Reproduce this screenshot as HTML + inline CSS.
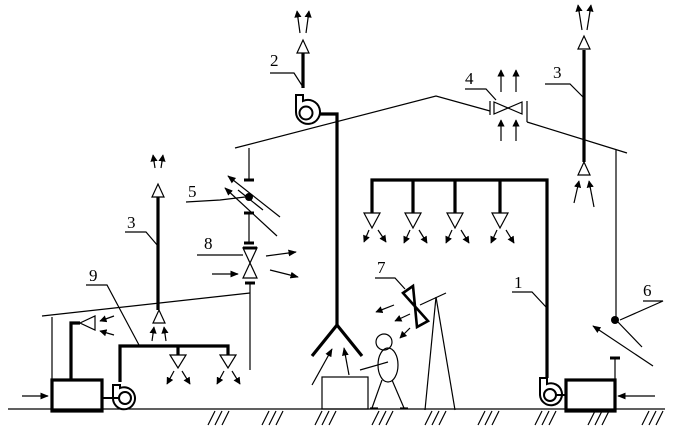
<!DOCTYPE html>
<html><head><meta charset="utf-8"><style>
html,body{margin:0;padding:0;background:#fff}
svg{display:block}
text{font-family:"Liberation Serif",serif;font-size:17px;fill:#000}
</style></head><body>
<svg width="673" height="432" viewBox="0 0 673 432" xmlns="http://www.w3.org/2000/svg">
<defs>
<marker id="a" viewBox="0 0 10 10" refX="9" refY="5" markerWidth="6" markerHeight="6" orient="auto"><path d="M0,0 L10,5 L0,10 z" fill="#000"/></marker>
<marker id="b" viewBox="0 0 10 10" refX="9" refY="5" markerWidth="7" markerHeight="7" orient="auto"><path d="M0,1 L10,5 L0,9 z" fill="#000"/></marker>
</defs>
<g fill="none" stroke="#000" stroke-width="1.2">
<line x1="8" y1="409" x2="665" y2="409"/>
<path d="M208,425 l7,-14 M215,425 l7,-14 M222,425 l7,-14 M262,425 l7,-14 M269,425 l7,-14 M276,425 l7,-14 M315,425 l7,-14 M322,425 l7,-14 M329,425 l7,-14 M372,425 l7,-14 M379,425 l7,-14 M386,425 l7,-14 M425,425 l7,-14 M432,425 l7,-14 M439,425 l7,-14 M478,425 l7,-14 M485,425 l7,-14 M492,425 l7,-14 M535,425 l7,-14 M542,425 l7,-14 M549,425 l7,-14 M588,425 l7,-14 M595,425 l7,-14 M602,425 l7,-14 M642,425 l7,-14 M649,425 l7,-14 M656,425 l7,-14"/>
<polyline points="235,148 436,96 490,111"/>
<polyline points="527,122 627,153"/>
<line x1="616" y1="150" x2="616" y2="320"/>
<line x1="490" y1="101" x2="490" y2="115"/><line x1="527" y1="101" x2="527" y2="122"/>
<path d="M494,102 L522,114 L522,102 L494,114 Z"/>
<line x1="501" y1="92" x2="501" y2="70" marker-end="url(#a)"/><line x1="516" y1="92" x2="516" y2="70" marker-end="url(#a)"/>
<line x1="501" y1="141" x2="501" y2="120" marker-end="url(#a)"/><line x1="516" y1="141" x2="516" y2="120" marker-end="url(#a)"/>
<line x1="616" y1="320" x2="642" y2="347"/>
<line x1="653" y1="366" x2="593" y2="326" marker-end="url(#b)"/>
<line x1="615" y1="358" x2="615" y2="380"/><line x1="610" y1="358" x2="620" y2="358" stroke-width="3"/>
<line x1="655" y1="396" x2="618" y2="396" marker-end="url(#b)"/>
<line x1="42" y1="316" x2="250" y2="293"/>
<line x1="52" y1="317" x2="52" y2="380"/>
<line x1="250" y1="283" x2="250" y2="370"/>
<line x1="245" y1="283" x2="255" y2="283" stroke-width="3"/>
<line x1="249" y1="148" x2="249" y2="180"/><line x1="244" y1="180" x2="254" y2="180" stroke-width="3"/>
<line x1="249" y1="212" x2="249" y2="243"/><line x1="244" y1="213" x2="254" y2="213" stroke-width="3"/><line x1="244" y1="243" x2="254" y2="243" stroke-width="3"/>
<line x1="238" y1="190" x2="263" y2="210"/>
<line x1="280" y1="217" x2="228" y2="176" marker-end="url(#b)"/>
<line x1="277" y1="236" x2="225" y2="188" marker-end="url(#b)"/>
<path d="M243,248 L257,248 L243,278 L257,278 Z"/>
<line x1="243" y1="248" x2="257" y2="248" stroke-width="3"/>
<line x1="266" y1="256" x2="296" y2="252" marker-end="url(#b)"/>
<line x1="270" y1="270" x2="298" y2="277" marker-end="url(#b)"/>
<line x1="212" y1="274" x2="238" y2="274" marker-end="url(#b)"/>
<path d="M364,213 L380,213 L372,228 Z M405,213 L421,213 L413,228 Z M447,213 L463,213 L455,228 Z M492,213 L508,213 L500,228 Z"/>
<path d="M152,197 L164,197 L158,184 Z M153,323 L165,323 L159,310 Z M170,355 L186,355 L178,368 Z M220,355 L236,355 L228,368 Z"/>
<path d="M297,53 L303,40 L309,53 Z M578,49 L584,36 L590,49 Z M578,175 L590,175 L584,162 Z"/>
<path d="M80,323 L95,316 L95,330 Z"/>
<rect x="322" y="377" width="46" height="32"/>
<circle cx="384" cy="342" r="8"/>
<ellipse cx="388" cy="365" rx="10" ry="17"/>
<line x1="360" y1="370" x2="388" y2="362"/>
<polyline points="382,380 372,408"/><line x1="370" y1="408" x2="378" y2="408"/>
<polyline points="392,380 404,408"/><line x1="400" y1="408" x2="408" y2="408"/>
<line x1="436" y1="297" x2="425" y2="410"/><line x1="436" y1="297" x2="455" y2="410"/>
<line x1="420" y1="305" x2="446" y2="293"/>
<polyline points="270,73 294,73 303,87"/>
<polyline points="545,84 570,84 584,98"/>
<polyline points="465,89 486,89 496,100"/>
<polyline points="186,202 220,200 245,197"/>
<polyline points="197,255 243,255"/>
<polyline points="125,232 146,232 158,246"/>
<polyline points="86,285 107,285 139,345"/>
<polyline points="375,278 395,278 405,289"/>
<polyline points="512,292 532,292 546,307"/>
<polyline points="643,301 663,301 620,320"/>
<line x1="155" y1="168" x2="153" y2="155" marker-end="url(#a)"/><line x1="161" y1="168" x2="163" y2="155" marker-end="url(#a)"/>
<line x1="152" y1="341" x2="154" y2="327" marker-end="url(#a)"/><line x1="166" y1="341" x2="164" y2="327" marker-end="url(#a)"/>
<line x1="174" y1="371" x2="167" y2="384" marker-end="url(#a)"/><line x1="182" y1="371" x2="190" y2="384" marker-end="url(#a)"/>
<line x1="224" y1="371" x2="217" y2="384" marker-end="url(#a)"/><line x1="232" y1="371" x2="240" y2="384" marker-end="url(#a)"/>
<line x1="114" y1="316" x2="100" y2="321" marker-end="url(#a)"/><line x1="114" y1="335" x2="100" y2="331" marker-end="url(#a)"/>
<line x1="300" y1="33" x2="297" y2="11" marker-end="url(#a)"/><line x1="306" y1="33" x2="309" y2="11" marker-end="url(#a)"/>
<line x1="582" y1="30" x2="578" y2="5" marker-end="url(#a)"/><line x1="587" y1="30" x2="591" y2="5" marker-end="url(#a)"/>
<line x1="574" y1="203" x2="579" y2="181" marker-end="url(#a)"/><line x1="594" y1="207" x2="589" y2="181" marker-end="url(#a)"/>
<line x1="369" y1="230" x2="364" y2="242" marker-end="url(#a)"/><line x1="378" y1="230" x2="386" y2="242" marker-end="url(#a)"/>
<line x1="410" y1="230" x2="404" y2="243" marker-end="url(#a)"/><line x1="419" y1="230" x2="427" y2="243" marker-end="url(#a)"/>
<line x1="452" y1="230" x2="446" y2="243" marker-end="url(#a)"/><line x1="461" y1="230" x2="469" y2="243" marker-end="url(#a)"/>
<line x1="497" y1="230" x2="491" y2="243" marker-end="url(#a)"/><line x1="506" y1="230" x2="514" y2="243" marker-end="url(#a)"/>
<line x1="394" y1="305" x2="376" y2="312" marker-end="url(#a)"/><line x1="410" y1="314" x2="395" y2="321" marker-end="url(#a)"/><line x1="410" y1="328" x2="400" y2="338" marker-end="url(#a)"/>
<line x1="312" y1="385" x2="332" y2="349" marker-end="url(#b)"/><line x1="349" y1="375" x2="344" y2="348" marker-end="url(#b)"/>
<line x1="22" y1="396" x2="48" y2="396" marker-end="url(#b)"/>
</g>
<g fill="none" stroke="#000" stroke-width="3.2">
<polyline points="303,88 303,53"/>
<polyline points="318,114 337,114 337,325"/>
<polyline points="312,356 337,325 362,356"/>
<polyline points="584,50 584,162"/>
<polyline points="158,197 158,310"/>
<polyline points="372,213 372,180 547,180 547,378"/>
<line x1="413" y1="180" x2="413" y2="213"/><line x1="455" y1="180" x2="455" y2="213"/><line x1="500" y1="180" x2="500" y2="213"/>
<polyline points="71,380 71,323 80,323"/>
<polyline points="120,382 120,346 228,346 228,355"/>
<line x1="178" y1="346" x2="178" y2="355"/>
<rect x="52" y="380" width="50" height="31"/>
<rect x="566" y="380" width="49" height="31"/>
<path d="M403,293 L413,286 L417,327 L428,321 Z" stroke-width="2.6" stroke-linejoin="miter"/>
</g>
<g fill="#fff" stroke="#000" stroke-width="2">
<path d="M296,95 L303,95 L303,101 A12,12 0 1 1 296,112 Z"/>
<circle cx="306" cy="113" r="6.5"/>
<path d="M113,385 L120,385 L120,388 A11,11 0 1 1 113,398 Z"/>
<circle cx="125" cy="398" r="6"/>
<line x1="102" y1="398" x2="119" y2="398"/>
<path d="M540,378 L547,378 L547,384 A11,11 0 1 1 540,395 Z"/>
<circle cx="550" cy="395" r="6"/>
<line x1="556" y1="395" x2="566" y2="395"/>
</g>
<circle cx="249" cy="197" r="4" fill="#000"/>
<circle cx="615" cy="320" r="4" fill="#000"/>
<text x="270" y="66">2</text>
<text x="553" y="78">3</text>
<text x="465" y="84">4</text>
<text x="188" y="197">5</text>
<text x="204" y="249">8</text>
<text x="127" y="228">3</text>
<text x="89" y="281">9</text>
<text x="377" y="273">7</text>
<text x="514" y="288">1</text>
<text x="643" y="296">6</text>
</svg>
</body></html>
